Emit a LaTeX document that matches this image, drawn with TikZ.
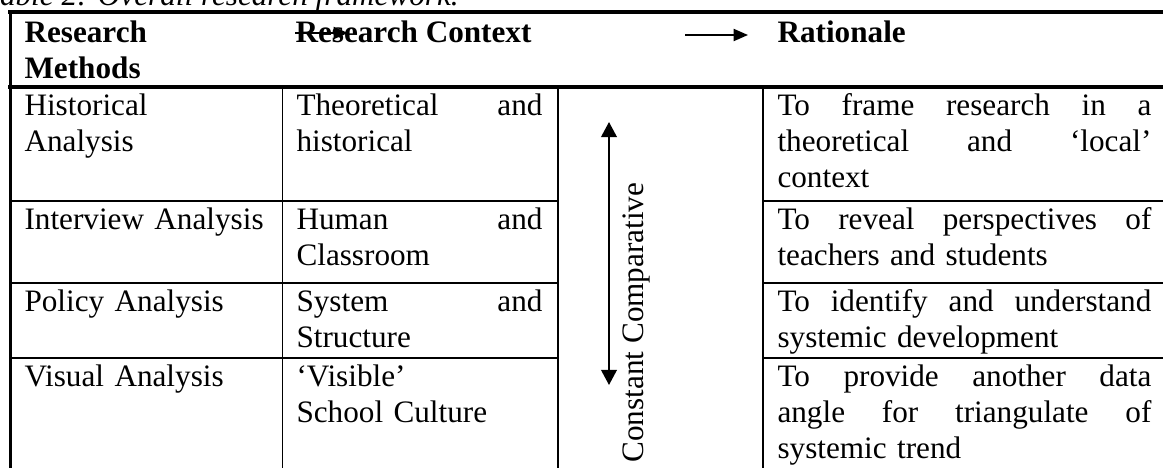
\documentclass[tikz,border=0pt]{standalone}
\usepackage{fontspec}
\setmainfont{Liberation Serif}
\usetikzlibrary{arrows.meta}

\begin{document}
\begin{tikzpicture}[x=0.3846pt,y=-0.3846pt,
  txt/.style={anchor=base west,inner sep=0pt,align=left,font=\fontsize{12}{13.85}\selectfont},
  hd/.style={txt,font=\fontsize{12}{13.85}\selectfont\bfseries},
  thickrule/.style={line width=1.5pt},
  thinrule/.style={line width=0.75pt},
  arr/.style={line width=0.75pt,-{Triangle[length=5.5pt,width=4.6pt]}}]
\useasboundingbox (0,0) rectangle (1163,468);
\clip (0,0) rectangle (1163,468);

% caption, cut by the top of the page
\node[txt,font=\fontsize{12}{13.85}\selectfont\itshape] (cap) at (-15,5) {Table 2: Overall research framework.};

% rules
\draw[thickrule] (8,12) -- (1170,12);
\draw[thickrule] (10.5,10.5) -- (10.5,472);
\draw[thickrule] (8,87) -- (1170,87);
\foreach \y in {201,283,358}{
  \draw[thinrule] (10,\y) -- (558,\y);
  \draw[thinrule] (763,\y) -- (1170,\y);
}
\foreach \x in {282.5,558,763}
  \draw[thinrule] (\x,87) -- (\x,472);

% header
\node[hd,text width=92pt] (hmeth) at (24,42) {Research\\Methods};
\node[hd] (hctx) at (295,42) {Research Context};
\node[hd] (hrat) at (777,42) {Rationale};

% methods
\node[txt,text width=92pt] (meth1) at (24,115) {Historical\\Analysis};
\node[txt,text width=92pt] (meth2) at (24,229) {Interview Analysis};
\node[txt,text width=92pt] (meth3) at (24,311) {Policy Analysis};
\node[txt,text width=92pt] (meth4) at (24,386) {Visual Analysis};

% context
\node[txt,text width=94.6pt] (ctx1) at (296,115) {Theoretical\hfill and\\historical};
\node[txt,text width=94.6pt] (ctx2) at (296,229) {Human\hfill and\\Classroom};
\node[txt,text width=94.6pt] (ctx3) at (296,311) {System\hfill and\\Structure};
\node[txt,text width=94.6pt] (ctx4) at (296,386) {`Visible'\\School Culture};

% rationale
\node[txt,text width=143.8pt] (rat1) at (777,115) {To\hfill frame\hfill research\hfill in\hfill a\\theoretical\hfill and\hfill `local'\\context};
\node[txt,text width=143.8pt] (rat2) at (777,229) {To\hfill reveal\hfill perspectives\hfill of\\teachers and students};
\node[txt,text width=143.8pt] (rat3) at (777,311) {To\hfill identify\hfill and\hfill understand\\systemic development};
\node[txt,text width=143.8pt] (rat4) at (777,386) {To\hfill provide\hfill another\hfill data\\angle\hfill for\hfill triangulate\hfill of\\systemic trend};

% constant comparative
\node[txt,rotate=90] (cc) at (643,463) {Constant Comparative};

% arrows
\coordinate (ha1) at (295,33);
\coordinate (hb1) at (348,33);
\coordinate (ha2) at (685,35);
\coordinate (hb2) at (748,35);
\coordinate (cctop) at (609,122);
\coordinate (ccbot) at (609,385);
\draw[arr] (ha1) -- (hb1);
\draw[arr] (ha2) -- (hb2);
\draw[line width=0.75pt,{Triangle[length=5.8pt,width=6pt]}-{Triangle[length=5.8pt,width=6pt]}] (cctop) -- (ccbot);

\end{tikzpicture}
\end{document}
